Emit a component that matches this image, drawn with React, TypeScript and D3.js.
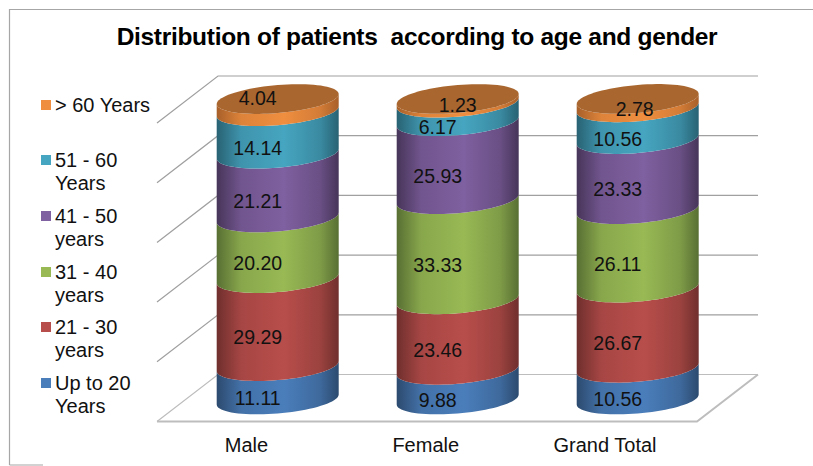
import React from "react";
import * as d3 from "d3";

const categories = ["Male", "Female", "Grand Total"];
const upTo20 = [11.11, 9.88, 10.56];
const age21to30 = [29.29, 23.46, 26.67];
const age31to40 = [20.2, 33.33, 26.11];
const age41to50 = [21.21, 25.93, 23.33];
const age51to60 = [14.14, 6.17, 10.56];
const over60 = [4.04, 1.23, 2.78];
const seriesValues = [upTo20, age21to30, age31to40, age41to50, age51to60, over60];
const axisTicks = [0, 20, 40, 60, 80, 100];

const palette = [
  { edge: "#2c4a6e", mid: "#4a7ebb" },
  { edge: "#6f2f2d", mid: "#b84e4b" },
  { edge: "#586f33", mid: "#98b954" },
  { edge: "#473559", mid: "#7f60a0" },
  { edge: "#286273", mid: "#46a5c0" },
  { edge: "#a8602a", mid: "#ef8e3f" },
];
const lidColor = "#a9672f";
const gridColor = "#a0a0a0";
const floorColor = "#bdbdbd";
const font = "'Liberation Sans', Arial, sans-serif";

const W = 813, H = 466;
const backLeft = 218, backRight = 758, depthX = 61, depthY = 47;
const backBase = 374.5, plotH = 298.5;
const rx = 61, ry = 14, tilt = -5;
const baseCy = 399.5;

const y = d3.scaleLinear().domain([0, 100]).range([0, plotH]);
const yBar = d3.scaleLinear().domain([0, 100]).range([0, 300.5]);
const x = d3.scalePoint().domain(categories).range([277.7, 637.7]);
const labelX = d3.scalePoint().domain(categories).range([246.5, 605]);

// top-of-stack labels sit on the lid; manual nudges
const lidLabelDx = [-20, 0, -3];
const lidLabelY = [98, 105, 109];

const ellipseY = (t: number, cy: number) => cy + ry * Math.sin(t) + tilt * Math.cos(t);
const frontArc = (cx: number, cy: number, reverse: boolean) => {
  const ts = d3.range(0, 41).map((i) => (Math.PI * i) / 40);
  const pts = ts.map((t) => [cx + rx * Math.cos(t), ellipseY(t, cy)] as [number, number]);
  return reverse ? pts.reverse() : pts;
};
const line = d3.line();

const legendRows = [
  { i: 5, y: 105, lines: ["> 60 Years"] },
  { i: 4, y: 160, lines: ["51 - 60", "Years"] },
  { i: 3, y: 216, lines: ["41 - 50", "years"] },
  { i: 2, y: 272, lines: ["31 - 40", "years"] },
  { i: 1, y: 327, lines: ["21 - 30", "years"] },
  { i: 0, y: 383, lines: ["Up to 20", "Years"] },
];

export default function App() {
  const textStyle = { fontFamily: font, fontSize: 20, fill: "#111" };
  const valueStyle = { fontFamily: font, fontSize: 19.5, fill: "#111" };
  return (
    <svg width={W} height={H} viewBox={`0 0 ${W} ${H}`} style={{ position: "absolute", left: 0, top: 0, background: "#fff" }}>
      <defs>
        {palette.map((c, i) => (
          <linearGradient key={i} id={`g${i}`} x1="0" x2="1" y1="0" y2="0">
            <stop offset="0" stopColor={c.edge} />
            <stop offset="0.2" stopColor={d3.interpolateRgb(c.edge, c.mid)(0.75)} />
            <stop offset="0.55" stopColor={c.mid} />
            <stop offset="0.85" stopColor={d3.interpolateRgb(c.edge, c.mid)(0.6)} />
            <stop offset="1" stopColor={c.edge} />
          </linearGradient>
        ))}
      </defs>

      <path d="M9.5 465V9.5H813M9.5 465H43" fill="none" stroke="#a6a6a6" strokeWidth={1.2} />
      <text x={417} y={45} textAnchor="middle" style={{ fontFamily: font, fontSize: 24.5, fontWeight: 700, fill: "#000", letterSpacing: -0.3, whiteSpace: "pre" }}>
        Distribution of patients  according to age and gender
      </text>

      {axisTicks.map((t) => {
        const yb = backBase - y(t);
        return (
          <path key={t} d={`M${backLeft - depthX} ${yb + depthY}L${backLeft} ${yb}H${backRight}`} fill="none" stroke={t === 0 ? floorColor : gridColor} strokeWidth={1.2} />
        );
      })}
      <path d={`M${backLeft - depthX} ${backBase + depthY}H${backRight - depthX}L${backRight} ${backBase}`} fill="none" stroke={floorColor} strokeWidth={2} />

      {categories.map((cat, c) => {
        const cx = x(cat)!;
        const cum = d3.cumsum(seriesValues.map((s) => s[c]));
        const topCy = baseCy - yBar(cum[cum.length - 1]);
        return (
          <g key={cat}>
            {seriesValues.map((_, s) => {
              const cy0 = baseCy - yBar(s === 0 ? 0 : cum[s - 1]);
              const cy1 = baseCy - yBar(cum[s]);
              const pts = [...frontArc(cx, cy0, false), ...frontArc(cx, cy1, true)];
              return <path key={s} d={line(pts) + "Z"} fill={`url(#g${s})`} />;
            })}
            <path
              d={line(d3.range(0, 81).map((i) => {
                const t = (2 * Math.PI * i) / 80;
                return [cx + rx * Math.cos(t), ellipseY(t, topCy)] as [number, number];
              })) + "Z"}
              fill={lidColor}
            />
            {seriesValues.map((ser, s) => {
              const cy0 = baseCy - yBar(s === 0 ? 0 : cum[s - 1]);
              const cy1 = baseCy - yBar(cum[s]);
              const isLid = s === seriesValues.length - 1;
              const lx = isLid ? cx + lidLabelDx[c] : cx - 20;
              const ly = isLid ? lidLabelY[c] : (cy0 + cy1) / 2 + ry + 1.5;
              return (
                <text key={s} x={lx} y={ly} dy="0.35em" textAnchor="middle" style={valueStyle}>
                  {ser[c].toFixed(2)}
                </text>
              );
            })}
            <text x={labelX(cat)} y={445} dy="0.35em" textAnchor="middle" style={textStyle}>{cat}</text>
          </g>
        );
      })}

      {legendRows.map((r) => (
        <g key={r.i}>
          <rect x={41} y={r.y - 5} width={10} height={10} fill={palette[r.i].mid} />
          {r.lines.map((l, k) => (
            <text key={k} x={55} y={r.y + k * 23} dy="0.35em" style={textStyle}>{l}</text>
          ))}
        </g>
      ))}
    </svg>
  );
}
